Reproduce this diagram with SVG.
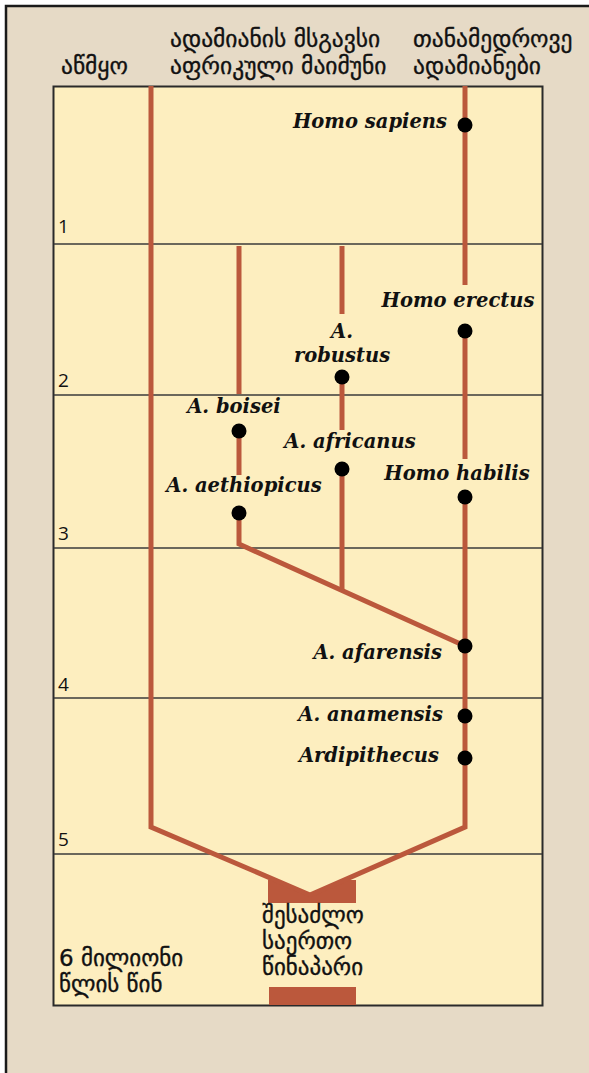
<svg xmlns="http://www.w3.org/2000/svg" width="589" height="1073" viewBox="0 0 589 1073">
<style>
.geo{font-family:"DejaVu Sans","Noto Sans",sans-serif;font-size:23.5px;fill:#111;stroke:#111;stroke-width:0.35}
.geo2{font-family:"DejaVu Sans","Noto Sans",sans-serif;font-size:23px;fill:#111;stroke:#111;stroke-width:0.35}
.num{font-family:"Open Sans","Noto Sans",sans-serif;font-size:19px;fill:#111}
.sp{font-family:"DejaVu Serif","Liberation Serif",serif;font-size:19.5px;font-weight:bold;font-style:italic;fill:#111}
.ln{fill:none;stroke:#bb583c;stroke-width:5}
.grid{stroke:#3a3a3a;stroke-width:1.6}
.dot{fill:#000}
.m{text-anchor:middle}
.e{text-anchor:end}
</style>
<rect x="6" y="6" width="640" height="1100" fill="#e6dac6" stroke="#1a1a1a" stroke-width="2.5"/>
<rect x="53.5" y="86.5" width="489" height="919" fill="#fdeebf" stroke="#2a2a2a" stroke-width="2"/>
<g id="grid">
<line class="grid" x1="54" y1="244" x2="542" y2="244"/>
<line class="grid" x1="54" y1="395" x2="542" y2="395"/>
<line class="grid" x1="54" y1="548" x2="542" y2="548"/>
<line class="grid" x1="54" y1="698" x2="542" y2="698"/>
<line class="grid" x1="54" y1="854" x2="542" y2="854"/>
<text class="num" x="58" y="233">1</text>
<text class="num" x="58" y="387">2</text>
<text class="num" x="58" y="540">3</text>
<text class="num" x="58" y="691">4</text>
<text class="num" x="58" y="846">5</text>
</g>
<g id="headers">
<text class="geo" x="61" y="74">აწმყო</text>
<text class="geo" x="170" y="47">ადამიანის მსგავსი</text>
<text class="geo" x="170" y="74">აფრიკული მაიმუნი</text>
<text class="geo" x="413" y="47">თანამედროვე</text>
<text class="geo" x="413" y="74">ადამიანები</text>
</g>
<g id="connectors">
<polygon points="268,880 275,880 310,896 344,880 356,880 356,903 268,903" fill="#bb583c"/>
<polyline class="ln" points="151,86 151,827 310,895 465,827 465,497"/>
<line class="ln" x1="465" y1="86" x2="465" y2="285"/>
<line class="ln" x1="465" y1="331" x2="465" y2="459"/>
<line class="ln" x1="239" y1="246" x2="239" y2="394"/>
<line class="ln" x1="239" y1="431" x2="239" y2="475"/>
<polyline class="ln" points="239,513 239,544 465,646"/>
<line class="ln" x1="342" y1="246" x2="342" y2="314"/>
<line class="ln" x1="342" y1="377" x2="342" y2="430"/>
<line class="ln" x1="342" y1="469" x2="342" y2="590"/>
</g>
<g id="homo-sapiens"><circle class="dot" cx="465" cy="125" r="7.5"/><text class="sp e" x="447" y="128">Homo sapiens</text></g>
<g id="homo-erectus"><circle class="dot" cx="465" cy="331" r="7.5"/><text class="sp m" x="458" y="307">Homo erectus</text></g>
<g id="a-robustus"><circle class="dot" cx="342" cy="377" r="7.5"/><text class="sp m" x="342" y="338">A.</text><text class="sp m" x="342" y="362">robustus</text></g>
<g id="a-boisei"><circle class="dot" cx="239" cy="431" r="7.5"/><text class="sp m" x="234" y="413">A. boisei</text></g>
<g id="a-africanus"><circle class="dot" cx="342" cy="469" r="7.5"/><text class="sp m" x="350" y="448">A. africanus</text></g>
<g id="homo-habilis"><circle class="dot" cx="465" cy="497" r="7.5"/><text class="sp m" x="457" y="480">Homo habilis</text></g>
<g id="a-aethiopicus"><circle class="dot" cx="239" cy="513" r="7.5"/><text class="sp m" x="244" y="492">A. aethiopicus</text></g>
<g id="a-afarensis"><circle class="dot" cx="465" cy="646" r="7.5"/><text class="sp e" x="442" y="659">A. afarensis</text></g>
<g id="a-anamensis"><circle class="dot" cx="465" cy="716" r="7.5"/><text class="sp e" x="443" y="721">A. anamensis</text></g>
<g id="ardipithecus"><circle class="dot" cx="465" cy="758" r="7.5"/><text class="sp e" x="439" y="762">Ardipithecus</text></g>
<g id="ancestor">
<rect x="269" y="987" width="87" height="18" fill="#bb583c"/>
<text class="geo2" x="262" y="923">შესაძლო</text>
<text class="geo2" x="262" y="949">საერთო</text>
<text class="geo2" x="262" y="975">წინაპარი</text>
</g>
<g id="time-label">
<text class="geo2" x="59" y="966">6 მილიონი</text>
<text class="geo2" x="59" y="992">წლის წინ</text>
</g>
</svg>
